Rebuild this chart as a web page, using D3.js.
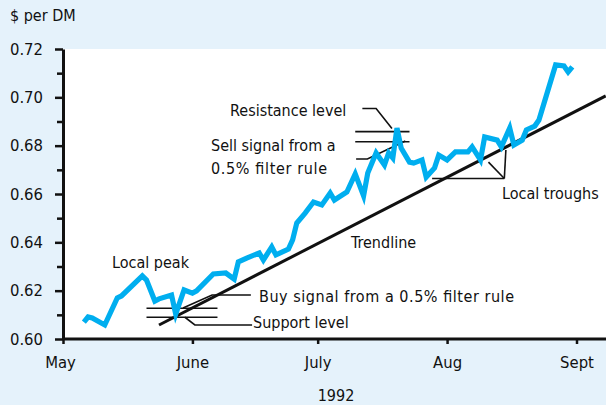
<!DOCTYPE html>
<html>
<head>
<meta charset="utf-8">
<script src="https://cdn.jsdelivr.net/npm/d3@7"></script>
<style>
  body { margin: 0; background: #e5f2fb; }
  svg { display: block; font-family: "DejaVu Sans Condensed", "DejaVu Sans", sans-serif; font-stretch: condensed; }
  text { fill: #111; }
</style>
</head>
<body>
<div class="chart"></div>
<script>
// daily $ per DM, May - Aug 1992
const dates = [
  "1992-05-06", "1992-05-07", "1992-05-08", "1992-05-11", "1992-05-14", "1992-05-15",
  "1992-05-20", "1992-05-21", "1992-05-23", "1992-05-24", "1992-05-27", "1992-05-28",
  "1992-05-30", "1992-06-01", "1992-06-02", "1992-06-06", "1992-06-09", "1992-06-11",
  "1992-06-12", "1992-06-14", "1992-06-17", "1992-06-18", "1992-06-20", "1992-06-21",
  "1992-06-24", "1992-06-25", "1992-06-26", "1992-06-28", "1992-06-30", "1992-07-02",
  "1992-07-04", "1992-07-05", "1992-07-08", "1992-07-10", "1992-07-12", "1992-07-13",
  "1992-07-15", "1992-07-17", "1992-07-18", "1992-07-19", "1992-07-20", "1992-07-21",
  "1992-07-23", "1992-07-24", "1992-07-26", "1992-07-27", "1992-07-29", "1992-07-30",
  "1992-08-01", "1992-08-03", "1992-08-06", "1992-08-07", "1992-08-09", "1992-08-10",
  "1992-08-13", "1992-08-14", "1992-08-16", "1992-08-17", "1992-08-19", "1992-08-20",
  "1992-08-22", "1992-08-23", "1992-08-27", "1992-08-29", "1992-08-30", "1992-08-31"
]
const rates = [
  0.6070, 0.6091, 0.6087, 0.6058, 0.6170, 0.6178,
  0.6261, 0.6244, 0.6157, 0.6166, 0.6182, 0.6103,
  0.6203, 0.6190, 0.6199, 0.6269, 0.6273, 0.6248,
  0.6319, 0.6335, 0.6356, 0.6327, 0.6381, 0.6348,
  0.6372, 0.6410, 0.6480, 0.6521, 0.6567, 0.6555,
  0.6604, 0.6575, 0.6608, 0.6683, 0.6592, 0.6687,
  0.6770, 0.6720, 0.6770, 0.6749, 0.6873, 0.6790,
  0.6732, 0.6728, 0.6741, 0.6670, 0.6708, 0.6761,
  0.6741, 0.6774, 0.6774, 0.6795, 0.6741, 0.6836,
  0.6823, 0.6795, 0.6873, 0.6803, 0.6823, 0.6865,
  0.6881, 0.6906, 0.7134, 0.7130, 0.7105, 0.7126
]

const trendDates = ["1992-05-24", "1992-09-08"]
const trendValues = [0.6058, 0.7006]

// filter-rule levels: [from, to, value]
const levels = [
  ["1992-05-21", "1992-06-07", 0.6090], // support
  ["1992-05-21", "1992-06-07", 0.6127], // buy signal
  ["1992-07-10", "1992-07-23", 0.6858], // resistance
  ["1992-07-10", "1992-07-23", 0.6816]  // sell signal
]

// leader lines from labels to the chart, in data terms
const leaders = [
  [["1992-05-29T18:00", 0.6128], ["1992-06-05T17:00", 0.6182], ["1992-06-15T00:00", 0.6182]],
  [["1992-05-30T05:00", 0.6090], ["1992-06-01T14:00", 0.6058], ["1992-06-15T07:00", 0.6058]],
  [["1992-07-11T17:00", 0.6954], ["1992-07-15T00:00", 0.6954], ["1992-07-18T19:00", 0.6871]],
  [["1992-07-10T05:00", 0.6745], ["1992-07-12T22:00", 0.6745], ["1992-07-22T00:00", 0.6819]],
  [["1992-07-28T10:00", 0.6664], ["1992-08-14T17:00", 0.6664]],
  [["1992-08-10T22:00", 0.6732], ["1992-08-14T17:00", 0.6664]],
  [["1992-08-15T02:00", 0.6782], ["1992-08-14T17:00", 0.6664]]
]

const monthTicks = ["1992-05-01", "1992-06-01", "1992-07-01", "1992-08-01", "1992-09-01"]
const monthLabels = ["May", "June", "July", "Aug", "Sept"]
const yTicks = [0.60, 0.61, 0.62, 0.63, 0.64, 0.65, 0.66, 0.67, 0.68, 0.69, 0.70, 0.71, 0.72]

const labels = [
  { text: "Local peak", x: 112, y: 268 },
  { text: "Resistance level", x: 230, y: 116 },
  { text: "Sell signal from a", x: 211, y: 151 },
  { text: "0.5% filter rule", x: 211, y: 174, w: 116 },
  { text: "Trendline", x: 351, y: 248 },
  { text: "Buy signal from a 0.5% filter rule", x: 259, y: 302, w: 255 },
  { text: "Support level", x: 253, y: 328 },
  { text: "Local troughs", x: 502, y: 199 }
]

const width = 606
const height = 405
const margin = { top: 49, right: 0, bottom: 66, left: 63 }

const parse = d3.isoParse
const series = dates.map((d, i) => ({ date: parse(d), value: rates[i] }))

const svg = d3.select('.chart')
  .append('svg')
  .attr('width', width)
  .attr('height', height)

const x = d3.scaleTime()
  .domain([parse("1992-05-01"), parse("1992-09-01")])
  .range([margin.left, 576.5])

const y = d3.scaleLinear()
  .domain([0.60, 0.72])
  .range([height - margin.bottom, margin.top])

// plot background
svg.append('rect')
  .attr('x', margin.left)
  .attr('y', margin.top)
  .attr('width', width - margin.left)
  .attr('height', height - margin.bottom - margin.top)
  .attr('fill', '#fff')

// levels
svg.append('g')
  .selectAll('line')
  .data(levels)
  .enter()
  .append('line')
  .attr('x1', (d) => x(parse(d[0])))
  .attr('x2', (d) => x(parse(d[1])))
  .attr('y1', (d) => y(d[2]))
  .attr('y2', (d) => y(d[2]))
  .attr('stroke', '#111')
  .attr('stroke-width', 1.6)

const pathLine = d3.line()
  .x((d) => x(parse(d[0])))
  .y((d) => y(d[1]))

svg.append('g')
  .selectAll('path')
  .data(leaders)
  .enter()
  .append('path')
  .attr('d', pathLine)
  .attr('fill', 'none')
  .attr('stroke', '#111')
  .attr('stroke-width', 1.6)

// trendline
svg.append('path')
  .datum(trendDates.map((d, i) => [d, trendValues[i]]))
  .attr('d', pathLine)
  .attr('fill', 'none')
  .attr('stroke', '#111')
  .attr('stroke-width', 3)

// exchange rate
svg.append('path')
  .datum(series)
  .attr('d', d3.line().x((d) => x(d.date)).y((d) => y(d.value)))
  .attr('fill', 'none')
  .attr('stroke', '#00aeef')
  .attr('stroke-width', 5.2)
  .attr('stroke-linejoin', 'miter')

// axes
const yAxis = svg.append('g')
  .attr('transform', `translate(${margin.left},0)`)
  .call(d3.axisLeft(y)
    .tickValues(yTicks)
    .tickSize(8)
    .tickSizeOuter(0)
    .tickPadding(12)
    .tickFormat((d, i) => i % 2 === 0 ? d3.format('.2f')(d) : ''))
yAxis.selectAll('.tick line')
  .attr('x2', (d, i) => i % 2 === 0 ? -8 : -6)
  .attr('stroke-width', 2.5)

const xAxis = svg.append('g')
  .attr('transform', `translate(0,${height - margin.bottom})`)
  .call(d3.axisBottom(x)
    .tickValues(monthTicks.map(parse))
    .tickSize(5)
    .tickSizeOuter(0)
    .tickPadding(12)
    .tickFormat((d, i) => monthLabels[i]))
xAxis.select('.domain').attr('d', `M${margin.left},0H${width}`)
xAxis.selectAll('.tick line').attr('stroke-width', 2.5)
xAxis.selectAll('.tick text').attr('dx', (d, i) => i === 0 ? -3 : 0)

svg.selectAll('.domain').attr('stroke', '#111').attr('stroke-width', 3)
svg.selectAll('.tick line').attr('stroke', '#111')
svg.selectAll('.tick text')
  .attr('fill', '#111')
  .style('font-size', '16.5px')
  .style('font-family', '"DejaVu Sans Condensed", "DejaVu Sans", sans-serif')

svg.append('text')
  .attr('x', 10)
  .attr('y', 21)
  .style('font-size', '16px')
  .text('$ per DM')

svg.append('text')
  .attr('x', 336)
  .attr('y', 401)
  .attr('text-anchor', 'middle')
  .style('font-size', '16px')
  .text('1992')

svg.append('g')
  .selectAll('text')
  .data(labels)
  .enter()
  .append('text')
  .attr('x', (d) => d.x)
  .attr('y', (d) => d.y)
  .attr('textLength', (d) => d.w ? d.w : null)
  .style('font-size', '16px')
  .text((d) => d.text)
</script>
</body>
</html>
